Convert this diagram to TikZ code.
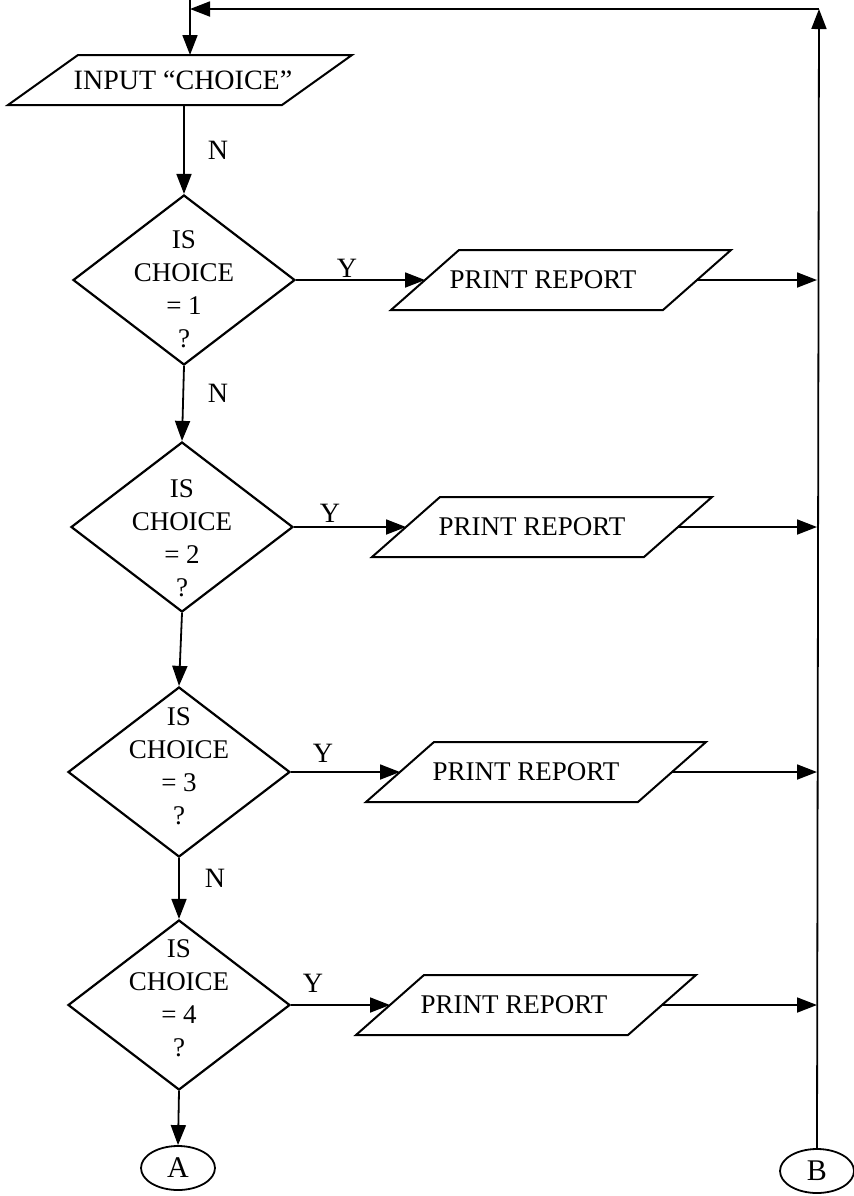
\documentclass[tikz,border=0pt]{standalone}
\usepackage{fontspec}
\setmainfont{Liberation Serif}
\usetikzlibrary{shapes.geometric,arrows.meta}
% parallelogram (input/output) box: name, centre, text, text shift
\newcommand{\ioshape}[4]{%
  \coordinate (#1) at #2;
  \draw[boxline] (#1) ++(-170,30) -- ++(272,0) -- ++(68,-60) -- ++(-272,0) -- cycle;
  \coordinate (#1-w) at ([xshift=-68pt]#1);
  \coordinate (#1-e) at ([xshift=68pt]#1);
  \node[iotext] (#1-t) at ([xshift=#4]#1) {#3};
}
\begin{document}
\begin{tikzpicture}[x=0.5pt,y=-0.5pt,
  flow/.style={line width=0.9pt},
  arr/.style={flow,-{Triangle[length=10pt,width=7.5pt]}},
  boxline/.style={line width=1pt,line join=miter},
  dec/.style={draw,line width=1.1pt,diamond,minimum width=111pt,minimum height=85pt,inner sep=0pt},
  dectext/.style={align=center,font=\fontsize{13.5}{16.5}\selectfont},
  iotext/.style={font=\fontsize{13.5}{16}\selectfont},
  conn/.style={draw,line width=0.9pt,ellipse,minimum width=37pt,minimum height=22pt,
    inner sep=0pt,font=\fontsize{15}{17}\selectfont},
  lbl/.style={font=\fontsize{14}{16}\selectfont}]
\useasboundingbox (0,0) rectangle (853,1196);

% input box
\coordinate (in) at (180,80);
\draw[boxline] (in) ++(-172,25) -- ++(274,0) -- ++(70,-50) -- ++(-274,0) -- cycle;
\coordinate (in-n) at ([yshift=12.5pt]in);
\coordinate (in-s) at ([yshift=-12.5pt]in);
\node[iotext,font=\fontsize{14}{16}\selectfont] (intext) at (183,80) {INPUT ``CHOICE''};

% decisions
\node[dec] (d1) at (184,280) {};
\node[dectext] (t1) at (184,289) {IS\\CHOICE\\= 1\\?};
\node[dec] (d2) at (182,527) {};
\node[dectext] (t2) at (182,538) {IS\\CHOICE\\= 2\\?};
\node[dec] (d3) at (179,772) {};
\node[dectext] (t3) at (179,766) {IS\\CHOICE\\= 3\\?};
\node[dec] (d4) at (179,1005) {};
\node[dectext] (t4) at (179,998) {IS\\CHOICE\\= 4\\?};

% print boxes
\ioshape{p1}{(561,280)}{PRINT REPORT}{-9pt}
\ioshape{p2}{(542,527)}{PRINT REPORT}{-5pt}
\ioshape{p3}{(536,772)}{PRINT REPORT}{-5pt}
\ioshape{p4}{(526,1005)}{PRINT REPORT}{-6pt}

% off-page connectors
\node[conn] (A) at (178,1168) {A};
\node[conn] (B) at (817,1171) {B};

% loop-back corners
\coordinate (entry) at (190,0);
\coordinate (jn) at (190,9);
\coordinate (corner) at (819,9);

% main flow
\draw[arr] (entry) -- (entry |- in-n);
\draw[arr] (d1.north |- in-s) -- (d1.north);
\draw[arr] (d1.south) -- (d2.north);
\draw[arr] (d2.south) -- (d3.north);
\draw[arr] (d3.south) -- (d4.north);
\draw[arr] (d4.south) -- (A.north);

% yes branches
\foreach \i in {1,2,3,4}{
  \draw[arr] (d\i.east) -- (p\i-w);
  \draw[arr] (p\i-e) -- (p\i-e -| B.north);
}

% return line
\draw[arr] (B.north) -- (corner);
\draw[arr] (corner) -- (jn);

% branch labels
\node[lbl] (n1) at (218,150) {N};
\node[lbl] (n2) at (218,393) {N};
\node[lbl] (n3) at (215,878) {N};
\node[lbl] (y1) at (347,268) {Y};
\node[lbl] (y2) at (330,513) {Y};
\node[lbl] (y3) at (323,753) {Y};
\node[lbl] (y4) at (313,983) {Y};
\end{tikzpicture}
\end{document}
